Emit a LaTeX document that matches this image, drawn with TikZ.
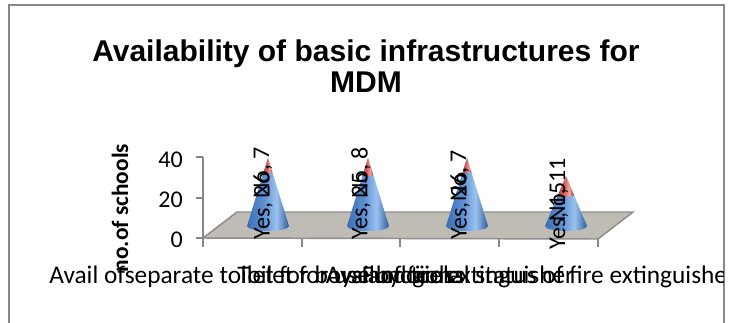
\documentclass[tikz,border=0pt]{standalone}
\usepackage{fontspec}
\setmainfont{Carlito}
\newfontfamily\titlefont{Liberation Sans}

% colours of the chart
\definecolor{framegray}{HTML}{878787}
\definecolor{axisgray}{HTML}{868686}
\definecolor{floorfill}{HTML}{BFBCB6}
\definecolor{floorline}{HTML}{8C8C8C}
\definecolor{cbA}{HTML}{3E6EB2}
\definecolor{cbB}{HTML}{5C8FD3}
\definecolor{cbC}{HTML}{9CC3EE}
\definecolor{cbD}{HTML}{2D5D9F}
\definecolor{crA}{HTML}{B8423F}
\definecolor{crB}{HTML}{D8625E}
\definecolor{crC}{HTML}{F0A4A1}
\definecolor{crD}{HTML}{A53633}

% cone surfaces: darker rims, bright band right of the middle
\pgfdeclarehorizontalshading{coneblue}{100bp}{color(0bp)=(cbA); color(25bp)=(cbA); color(45bp)=(cbB); color(60bp)=(cbC); color(75bp)=(cbD); color(100bp)=(cbD)}
\pgfdeclarehorizontalshading{conered}{100bp}{color(0bp)=(crA); color(25bp)=(crA); color(45bp)=(crB); color(60bp)=(crC); color(75bp)=(crD); color(100bp)=(crD)}

\tikzset{
  chartline/.style={draw=axisgray, line width=1.1pt},
  ticklbl/.style={font=\fontsize{18}{20}\selectfont, inner sep=0pt, anchor=east},
  catlbl/.style={font=\fontsize{19}{21}\selectfont, inner sep=0pt, anchor=base},
  datalbl/.style={font=\fontsize{18}{20}\selectfont, inner sep=0pt, rotate=90},
}

% stacked cone: apex x, apex y, y of the Yes/No boundary; base ellipse at y=226
\newcommand\stackcone[3]{%
  \pgfmathsetmacro\ct{(#3-#2)/(226-#2)}%
  \pgfmathsetmacro\crx{21*\ct}%
  \pgfmathsetmacro\cry{5*\ct}%
  \shade[shading=coneblue] (#1-21,226) -- (#1,#2) -- (#1+21,226)
     arc[start angle=0, end angle=180, x radius=21, y radius=5] -- cycle;
  \shade[shading=conered] (#1-\crx,#3) -- (#1,#2) -- (#1+\crx,#3)
     arc[start angle=0, end angle=180, x radius=\crx, y radius=\cry] -- cycle;
}

\begin{document}
\begin{tikzpicture}[x=0.75pt, y=-0.75pt]
\useasboundingbox (0,0) rectangle (731,322);
\fill[white] (0,0) rectangle (731,322);

% chart frame
\draw[framegray, line width=1.5pt] (9,330) -- (9,5) -- (724,5) -- (724,330);

% title
\node[font=\titlefont\bfseries\fontsize{22.5}{24}\selectfont, anchor=base] (title1) at (366,61) {Availability of basic infrastructures for};
\node[font=\titlefont\bfseries\fontsize{22.5}{24}\selectfont, anchor=base] (title2) at (366,92) {MDM};

% floor of the 3-D plot
\filldraw[fill=floorfill, draw=floorline, line width=1.1pt] (203,238) -- (237,212) -- (633,212) -- (598,239) -- cycle;

% value axis with ticks
\draw[chartline] (203,157) -- (203,247);
\foreach \ty in {157,198,238} \draw[chartline] (196,\ty) -- (203,\ty);
% category ticks
\foreach \tx in {302,400,499,598} \draw[chartline] (\tx,239) -- (\tx,247);

\node[ticklbl] (v40) at (183,160) {40};
\node[ticklbl] (v20) at (183,200) {20};
\node[ticklbl] (v0) at (183,240) {0};

\node[font=\bfseries\fontsize{17.5}{20}\selectfont, rotate=90, inner sep=0pt] (ytitle) at (120,208) {no.of schools};

% cones
\stackcone{268}{158}{172}
\stackcone{368}{158}{175}
\stackcone{467}{158}{172}
\stackcone{566}{176}{195}

% data labels
\node[datalbl, anchor=west] (yes1) at (263,240) {Yes, 26};
\node[datalbl, anchor=east] (no1) at (263,147) {No, 7};
\node[datalbl, anchor=west] (yes2) at (361,240) {Yes, 25};
\node[datalbl, anchor=east] (no2) at (361,147) {No, 8};
\node[datalbl, anchor=west] (yes3) at (460,240) {Yes, 26};
\node[datalbl, anchor=east] (no3) at (460,150) {No, 7};
\node[datalbl, anchor=west] (yes4) at (559,250) {Yes, 15};
\node[datalbl, anchor=east] (no4) at (559,158) {No, 11};

% category labels, cut off at the frame
\begin{scope}
\clip (10,250) rectangle (723,322);
\node[catlbl] (cat1) at (252,283) {Avail ofseparate toilet for boys and girls};
\node[catlbl] (cat2) at (351,283) {Toilet for use by cooks};
\node[catlbl] (cat3) at (450,283) {Avail of fire extinguisher};
\node[catlbl] (cat4) at (549,283) {Functional status of fire extinguisher};
\end{scope}
\end{tikzpicture}
\end{document}
